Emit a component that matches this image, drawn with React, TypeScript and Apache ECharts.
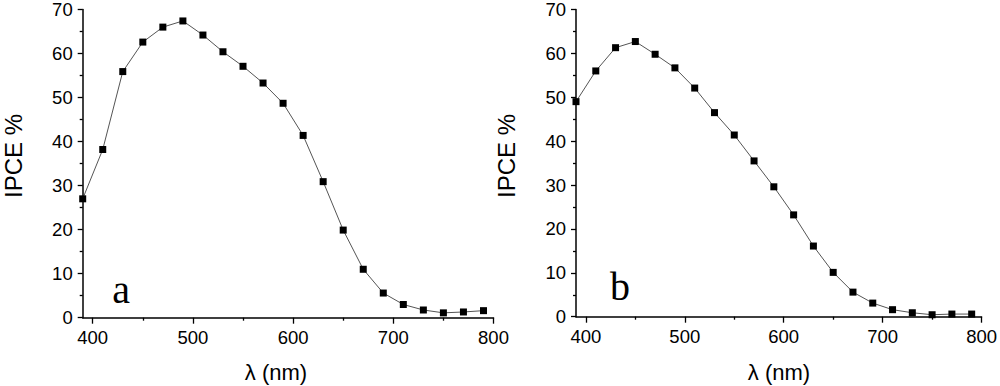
import React, { useEffect, useRef } from "react";
import * as echarts from "echarts";

const wavelengths = [390, 410, 430, 450, 470, 490, 510, 530, 550, 570, 590, 610, 630, 650, 670, 690, 710, 730, 750, 770, 790];
const ipceA = [27.0, 38.2, 55.9, 62.6, 66.0, 67.4, 64.2, 60.4, 57.1, 53.3, 48.7, 41.4, 30.9, 19.9, 11.0, 5.6, 3.0, 1.75, 1.1, 1.3, 1.6];
const ipceB = [49.0, 56.0, 61.3, 62.7, 59.8, 56.7, 52.1, 46.5, 41.4, 35.5, 29.6, 23.2, 16.1, 10.1, 5.6, 3.1, 1.6, 0.9, 0.45, 0.6, 0.6];
const majorXTicks = [400, 500, 600, 700, 800];
const minorXTicks = [450, 550, 650, 750];
const panelLetters = ["a", "b"];
const yTitle = "IPCE %";
const xTitle = "λ (nm)";

const FONT = "Liberation Sans, Arial, sans-serif";
const SERIF = "Liberation Serif, Times New Roman, serif";

export default function App() {
  const ref = useRef<HTMLDivElement>(null);
  useEffect(() => {
    if (!ref.current) return;
    const chart = echarts.init(ref.current, null, { renderer: "svg" });
    const grids = [
      { left: 82.7, right: 506.5, top: 9, bottom: 68.3 },
      { left: 576, right: 16.7, top: 8.3, bottom: 69.3 },
    ];
    const axisLine = { show: true, onZero: false, lineStyle: { color: "#000", width: 1.5 } };
    const xAxes: any[] = [];
    const yAxes: any[] = [];
    [0, 1].forEach((g) => {
      xAxes.push({
        type: "value",
        gridIndex: g,
        min: 390,
        max: 800,
        axisLine,
        splitLine: { show: false },
        axisTick: { show: true, customValues: majorXTicks, length: 6, lineStyle: { color: "#000", width: 1.3 } },
        axisLabel: { customValues: majorXTicks, color: "#000", fontSize: 18.5, fontFamily: FONT, margin: 10 },
      });
      xAxes.push({
        type: "value",
        gridIndex: g,
        min: 390,
        max: 800,
        position: "bottom",
        axisLine: { show: false },
        splitLine: { show: false },
        axisTick: { show: true, customValues: minorXTicks, length: 3, lineStyle: { color: "#000", width: 1.3 } },
        axisLabel: { show: false },
      });
      yAxes.push({
        type: "value",
        gridIndex: g,
        min: 0,
        max: 70,
        interval: 10,
        axisLine,
        splitLine: { show: false },
        axisTick: { show: true, length: 5, lineStyle: { color: "#000", width: 1.3 } },
        minorTick: { show: true, splitNumber: 2, length: 3, lineStyle: { color: "#000", width: 1.3 } },
        axisLabel: { color: "#000", fontSize: 18.5, fontFamily: FONT, margin: 10 },
      });
    });
    const mk = (vals: number[], g: number) => ({
      type: "line",
      xAxisIndex: g * 2,
      yAxisIndex: g,
      data: wavelengths.map((w, i) => [w, vals[i]]),
      symbol: "rect",
      symbolSize: 7,
      showAllSymbol: true,
      itemStyle: { color: "#000" },
      lineStyle: { color: "#555", width: 1 },
      clip: false,
    });
    const yTitleStyle = { fill: "#000", fontSize: 24, fontFamily: FONT, align: "center", verticalAlign: "middle" };
    const xTitleStyle = { fill: "#000", fontSize: 22, fontFamily: FONT, align: "center", verticalAlign: "middle" };
    const letterStyle = { fill: "#000", fontSize: 40, fontFamily: SERIF, align: "center", verticalAlign: "middle" };
    chart.setOption({
      animation: false,
      backgroundColor: "#fff",
      grid: grids,
      xAxis: xAxes,
      yAxis: yAxes,
      series: [mk(ipceA, 0), mk(ipceB, 1)],
      graphic: [
        { type: "text", x: 13, y: 156, rotation: Math.PI / 2, style: { ...yTitleStyle, text: yTitle } },
        { type: "text", x: 506, y: 156, rotation: Math.PI / 2, style: { ...yTitleStyle, text: yTitle } },
        { type: "text", x: 276, y: 372, style: { ...xTitleStyle, text: xTitle } },
        { type: "text", x: 779, y: 372, style: { ...xTitleStyle, text: xTitle } },
        { type: "text", x: 121, y: 289, style: { ...letterStyle, text: panelLetters[0] } },
        { type: "text", x: 620, y: 286, style: { ...letterStyle, text: panelLetters[1] } },
      ],
    });
    return () => chart.dispose();
  }, []);
  return <div ref={ref} style={{ position: "fixed", left: 0, top: 0, width: 1000, height: 386 }} />;
}
